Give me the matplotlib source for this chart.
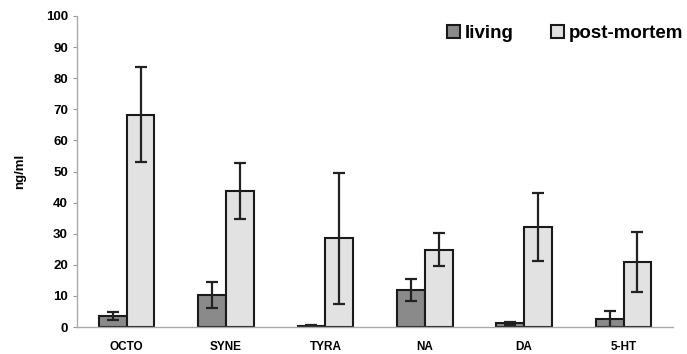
import matplotlib.pyplot as plt
import numpy as np

plt.rcParams['font.family'] = ['Liberation Sans', 'DejaVu Sans']

# data
categories = ['OCTO', 'SYNE', 'TYRA', 'NA', 'DA', '5-HT']
living = [3.5, 10.3, 0.4, 11.9, 1.2, 2.6]
living_err = [1.3, 4.1, 0.2, 3.6, 0.5, 2.5]
post_mortem = [68.2, 43.8, 28.5, 24.8, 32.3, 21.0]
post_mortem_err = [15.3, 9.0, 21.0, 5.3, 10.9, 9.6]

fig = plt.figure(figsize=(6.87, 3.54), dpi=100)
ax = fig.add_axes([0.112, 0.076, 0.868, 0.879])

x = np.arange(len(categories))
w = 0.28
err_kw = dict(ecolor='#222222', elinewidth=1.6, capsize=4, capthick=1.6)

ax.bar(x - w / 2, living, w, yerr=living_err, color='#8a8a8a',
       edgecolor='#1a1a1a', linewidth=1.5, label='living', error_kw=err_kw)
ax.bar(x + w / 2, post_mortem, w, yerr=post_mortem_err, color='#e2e2e2',
       edgecolor='#1a1a1a', linewidth=1.5, label='post-mortem', error_kw=err_kw)

ax.set_xlim(-0.5, len(categories) - 0.5)
ax.set_ylim(0, 100)
ax.set_yticks(range(0, 101, 10))
ax.set_xticks(x)
ax.set_xticklabels(categories, fontsize=8.5, fontweight='bold')
ax.tick_params(axis='x', length=0, pad=10)
ax.tick_params(axis='y', length=3, color='#999999', labelsize=9.5)
for lbl in ax.get_yticklabels():
    lbl.set_fontweight('bold')

for s in ['top', 'right']:
    ax.spines[s].set_visible(False)
for s in ['left', 'bottom']:
    ax.spines[s].set_color('#aaaaaa')
    ax.spines[s].set_linewidth(1.0)

ax.set_ylabel('ng/ml', fontsize=9.5, fontweight='bold', labelpad=14)

ax.legend(loc='upper right', bbox_to_anchor=(1.045, 1.025), ncol=2, frameon=False,
          handlelength=0.7, handleheight=0.7, handletextpad=0.25,
          columnspacing=2.0, prop={'weight': 'bold', 'size': 13.5})

fig.savefig('out.png', dpi=100)
